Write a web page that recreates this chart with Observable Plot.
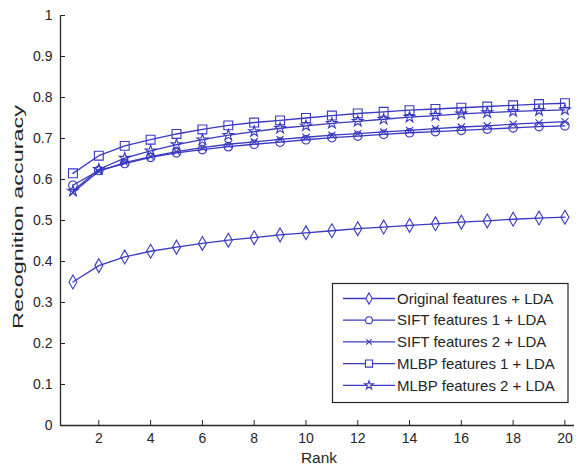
<!DOCTYPE html>
<html>
<head>
<meta charset="utf-8">
<script src="https://cdn.jsdelivr.net/npm/d3@7"></script>
<script src="https://cdn.jsdelivr.net/npm/@observablehq/plot@0.6"></script>
<style>
  html, body { margin: 0; padding: 0; background: #fff; }
  #chart svg { display: block; }
</style>
</head>
<body>
<div id="chart"></div>
<script>
const ranks = [1,2,3,4,5,6,7,8,9,10,11,12,13,14,15,16,17,18,19,20];
const seriesNames = [
  "Original features + LDA",
  "SIFT features 1 + LDA",
  "SIFT features 2 + LDA",
  "MLBP features 1 + LDA",
  "MLBP features 2 + LDA"
];
const seriesSymbols = ["diamond", "circle", "times", "square", "star"];
const originalLDA = [0.350,0.390,0.411,0.425,0.435,0.444,0.452,0.458,0.465,0.470,0.475,0.480,0.484,0.488,0.492,0.496,0.499,0.503,0.506,0.508];
const sift1LDA    = [0.586,0.622,0.639,0.654,0.665,0.673,0.680,0.686,0.691,0.697,0.702,0.706,0.710,0.714,0.717,0.720,0.723,0.726,0.729,0.731];
const sift2LDA    = [0.568,0.620,0.641,0.656,0.668,0.678,0.686,0.692,0.698,0.703,0.708,0.712,0.716,0.720,0.724,0.728,0.731,0.735,0.738,0.741];
const mlbp1LDA    = [0.615,0.658,0.682,0.697,0.711,0.722,0.732,0.739,0.744,0.750,0.756,0.761,0.765,0.769,0.772,0.775,0.778,0.781,0.784,0.786];
const mlbp2LDA    = [0.572,0.625,0.652,0.670,0.685,0.697,0.708,0.717,0.725,0.731,0.737,0.742,0.747,0.752,0.756,0.760,0.763,0.766,0.768,0.770];
const xTicks = [2,4,6,8,10,12,14,16,18,20];
const yTicks = [0,0.1,0.2,0.3,0.4,0.5,0.6,0.7,0.8,0.9,1];
const xLabel = "Rank";
const yLabel = "Recognition accuracy";

const allSeries = [originalLDA, sift1LDA, sift2LDA, mlbp1LDA, mlbp2LDA];
const data = allSeries.flatMap((vals, i) => ranks.map((r, j) => ({series: seriesNames[i], rank: r, value: vals[j]})));

const blue = "#3838c0";
const ink = "#262626";
const font = "Arial, 'Liberation Sans', sans-serif";
const symbolR = {diamond: 4.2, circle: 4.3, times: 3.3, square: 5, star: 3.4};

const xDomain = [0.52, 20.37];
const marks = [
  Plot.line(data, {x: "rank", y: "value", z: "series", stroke: blue, strokeWidth: 1.3}),
  ...seriesNames.map((name, i) => Plot.dot(data.filter(d => d.series === name), {
    x: "rank", y: "value", symbol: () => seriesSymbols[i], r: symbolR[seriesSymbols[i]],
    stroke: blue, fill: "none", strokeWidth: 1.1
  })),
  Plot.ruleX([xDomain[0]], {stroke: ink, strokeWidth: 1.3}),
  Plot.ruleY([0], {stroke: ink, strokeWidth: 1.3}),
  Plot.axisX({ticks: xTicks, tickSize: -5, tickPadding: 13, label: null, fontSize: 14, color: ink}),
  Plot.axisY({ticks: yTicks, tickSize: -5, tickPadding: 13, label: null, fontSize: 14, color: ink, tickFormat: d => String(+d.toFixed(1))})
];

const chart = Plot.plot({
  width: 578, height: 468,
  marginLeft: 60, marginRight: 4, marginTop: 15, marginBottom: 43,
  style: {fontFamily: font, fontSize: "14px", color: ink, background: "#fff", overflow: "visible"},
  x: {domain: xDomain},
  y: {domain: [0, 1]},
  symbol: {type: "identity"},
  marks
});
document.getElementById("chart").appendChild(chart);

const svg = d3.select(chart);
// axis titles
svg.append("text").attr("x", 319).attr("y", 463).attr("text-anchor", "middle")
  .attr("font-family", font).attr("font-size", 15.5).attr("fill", ink).text(xLabel);
svg.append("text").attr("transform", "translate(22.5,217) rotate(-90)").attr("text-anchor", "middle")
  .attr("font-family", font).attr("font-size", 14.5).attr("fill", ink)
  .attr("textLength", 224).attr("lengthAdjust", "spacingAndGlyphs").text(yLabel);

// legend
const lg = svg.append("g");
lg.append("rect").attr("x", 332.5).attr("y", 283.5).attr("width", 235.5).attr("height", 119)
  .attr("fill", "#fff").attr("stroke", ink).attr("stroke-width", 1.2);
seriesNames.forEach((name, i) => {
  const cy = 298.5 + i * 21.7;
  lg.append("line").attr("x1", 343).attr("x2", 395).attr("y1", cy).attr("y2", cy)
    .attr("stroke", blue).attr("stroke-width", 1.3);
  const sym = {diamond: d3.symbolDiamond, circle: d3.symbolCircle, times: d3.symbolTimes, square: d3.symbolSquare, star: d3.symbolStar}[seriesSymbols[i]];
  const r = symbolR[seriesSymbols[i]] * 0.8;
  lg.append("path").attr("transform", `translate(369,${cy})`)
    .attr("d", d3.symbol(sym, Math.PI * r * r)())
    .attr("fill", seriesSymbols[i] === "times" ? "none" : "#fff").attr("stroke", blue).attr("stroke-width", 1.1);
  lg.append("text").attr("x", 397).attr("y", cy).attr("dy", "0.35em").attr("text-anchor", "start")
    .attr("font-family", font).attr("font-size", 15).attr("fill", ink).text(name);
});
</script>
</body>
</html>
